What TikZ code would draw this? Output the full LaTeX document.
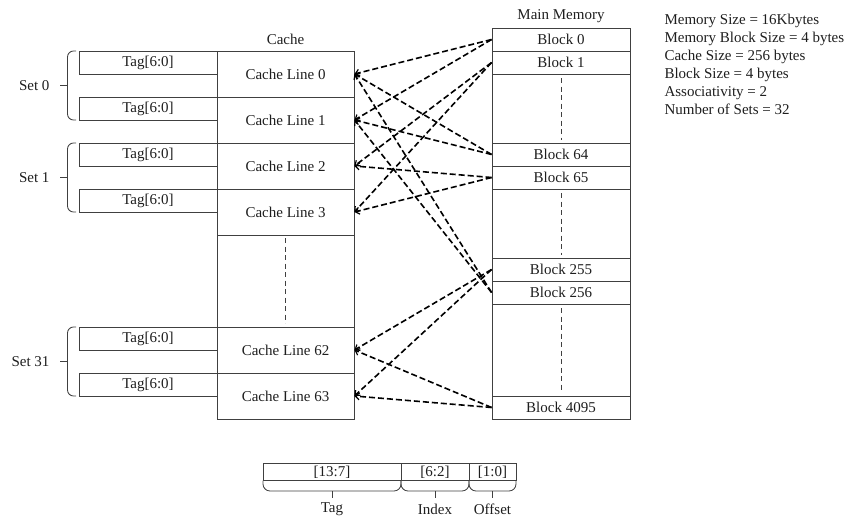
\documentclass[tikz,border=0pt]{standalone}
\usepackage{fontspec}
\setmainfont{Liberation Serif}
\usetikzlibrary{arrows.meta}
\definecolor{ink}{HTML}{1E1E1E}
\definecolor{edge}{HTML}{404040}
\begin{document}
\begin{tikzpicture}[x=1pt,y=-1pt,
  txt/.style={font=\fontsize{15}{18}\selectfont, text=ink},
  line/.style={draw=edge, line width=0.85pt},
  cline/.style={line, inner sep=0pt, minimum width=137pt, minimum height=46pt, txt},
  tagbox/.style={line, inner sep=0pt, minimum width=138pt, minimum height=23pt, txt},
  memblk/.style={line, inner sep=0pt, minimum width=138pt, minimum height=23pt, txt},
  field/.style={line, inner sep=0pt, minimum height=17pt, txt},
  gap/.style={draw=edge, line width=0.8pt, dash pattern=on 5pt off 3.5pt},
  map/.style={draw=black, line width=1.6pt, dash pattern=on 6pt off 3pt,
              -{Straight Barb[length=4pt,width=7pt,line width=1.2pt]}},
  setbrace/.style={line, rounded corners=6pt},
  fieldbrace/.style={line, rounded corners=7pt}]
\useasboundingbox (0,0) rectangle (848,522);

% ---------- cache ----------
\node[txt] (cachelbl) at (285.5,39) {Cache};
\draw[line] (217,51) rectangle (354,419);
\node[cline] (c0)  at (285.5,74)  {Cache Line 0};
\node[cline] (c1)  at (285.5,120) {Cache Line 1};
\node[cline] (c2)  at (285.5,166) {Cache Line 2};
\node[cline] (c3)  at (285.5,212) {Cache Line 3};
\node[cline] (c62) at (285.5,350) {Cache Line 62};
\node[cline] (c63) at (285.5,396) {Cache Line 63};
\draw[gap] (285.5,238) -- (285.5,323);

% tags
\node[tagbox] (t0)  at (148,62.5)  {Tag[6:0]};
\node[tagbox] (t1)  at (148,108.5) {Tag[6:0]};
\node[tagbox] (t2)  at (148,154.5) {Tag[6:0]};
\node[tagbox] (t3)  at (148,200.5) {Tag[6:0]};
\node[tagbox] (t62) at (148,338.5) {Tag[6:0]};
\node[tagbox] (t63) at (148,384.5) {Tag[6:0]};

% sets
\node[txt, anchor=east] (s0)  at (53,85.5)  {Set 0};
\node[txt, anchor=east] (s1)  at (53,177.5) {Set 1};
\node[txt, anchor=east] (s31) at (53,361.5) {Set 31};
\foreach \a/\b in {51/120, 143/212, 327/396}{
  \draw[setbrace] (76,\a) -- (67.5,\a) -- (67.5,\b) -- (76,\b);
  \draw[line] (60,{(\a+\b)/2}) -- (67.5,{(\a+\b)/2});
}

% ---------- main memory ----------
\node[txt] (memlbl) at (561,16) {Main Memory};
\draw[line] (492,28) rectangle (630,419);
\node[memblk] (m0)    at (561,39.5)  {Block 0};
\node[memblk] (m1)    at (561,62.5)  {Block 1};
\node[memblk] (m64)   at (561,154.5) {Block 64};
\node[memblk] (m65)   at (561,177.5) {Block 65};
\node[memblk] (m255)  at (561,269.5) {Block 255};
\node[memblk] (m256)  at (561,292.5) {Block 256};
\node[memblk] (m4095) at (561,407.5) {Block 4095};
\draw[gap] (561,78) -- (561,140);
\draw[gap] (561,193) -- (561,255);
\draw[gap] (561,308) -- (561,392);

% ---------- mapping ----------
\foreach \m/\c in {m0/c0, m0/c1, m64/c0, m64/c1, m256/c0, m256/c1,
                   m1/c2, m1/c3, m65/c2, m65/c3,
                   m255/c62, m255/c63, m4095/c62, m4095/c63}{
  \draw[map] (\m.west) -- (\c.east);
}

% ---------- parameters ----------
\node[txt, anchor=base west] (p1) at (661,24)  {Memory Size = 16Kbytes};
\node[txt, anchor=base west] (p2) at (661,42)  {Memory Block Size = 4 bytes};
\node[txt, anchor=base west] (p3) at (661,60)  {Cache Size = 256 bytes};
\node[txt, anchor=base west] (p4) at (661,78)  {Block Size = 4 bytes};
\node[txt, anchor=base west] (p5) at (661,96)  {Associativity = 2};
\node[txt, anchor=base west] (p6) at (661,114) {Number of Sets = 32};

% ---------- address fields ----------
\node[field, minimum width=138pt] (ftag) at (332,472)   {[13:7]};
\node[field, minimum width=68pt]  (fidx) at (435,472)   {[6:2]};
\node[field, minimum width=47pt]  (foff) at (492.5,472) {[1:0]};
\foreach \a/\b in {263/401, 401/469, 469/516}{
  \draw[fieldbrace] (\a,480.5) -- (\a,491) -- (\b,491) -- (\b,480.5);
  \draw[line] ({(\a+\b)/2},491) -- ({(\a+\b)/2},498);
}
\node[txt] (ltag) at (332,509)   {Tag};
\node[txt] (lidx) at (435,509)   {Index};
\node[txt] (loff) at (492.5,509) {Offset};
\end{tikzpicture}
\end{document}
